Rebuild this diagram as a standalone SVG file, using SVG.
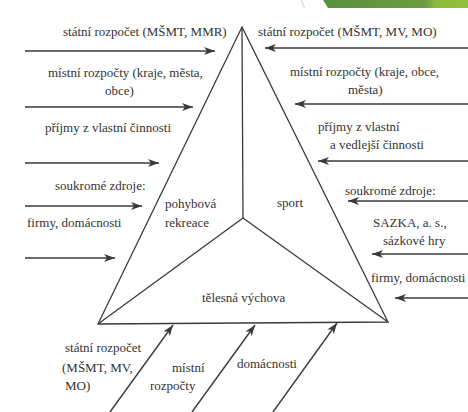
<svg xmlns="http://www.w3.org/2000/svg" width="468" height="412" viewBox="0 0 468 412">
<defs>
<marker id="ah" markerUnits="userSpaceOnUse" markerWidth="12" markerHeight="10" refX="11" refY="4" orient="auto">
<path d="M0,0 L11,4 L0,8 L3,4 z" fill="#3a3a3a"/>
</marker>
<linearGradient id="gr" x1="0" y1="0" x2="1" y2="0">
<stop offset="0" stop-color="#5b8f3e"/>
<stop offset="0.7" stop-color="#6c9c3f"/>
<stop offset="0.78" stop-color="#8dbb3c"/>
<stop offset="1" stop-color="#90bf3a"/>
</linearGradient>
</defs>
<rect width="468" height="412" fill="#ffffff"/>
<polygon points="323,0 468,0 468,8 328,8" fill="url(#gr)"/>
<line x1="301" y1="0" x2="304.5" y2="8" stroke="#bbbbbb" stroke-width="0.8"/>

<g id="triangle" stroke="#3a3a3a" stroke-width="1.3" fill="none">
<polygon points="242,27 98,324 388,322"/>
<line x1="242" y1="27" x2="243" y2="218"/>
<line x1="243" y1="218" x2="98" y2="324"/>
<line x1="243" y1="218" x2="388" y2="322"/>
</g>

<g id="node-pohybova-rekreace"><text font-family="Liberation Serif" font-size="13" fill="#333" x="165" y="208">pohybová</text><text font-family="Liberation Serif" font-size="13" fill="#333" x="165" y="227">rekreace</text></g>
<g id="node-sport"><text font-family="Liberation Serif" font-size="13" fill="#333" x="277" y="207">sport</text></g>
<g id="node-telesna-vychova"><text font-family="Liberation Serif" font-size="13" fill="#333" x="202" y="302">tělesná výchova</text></g>

<g id="src-left-1"><text font-family="Liberation Serif" font-size="13" fill="#333" x="63" y="36">státní rozpočet (MŠMT, MMR)</text></g>
<g id="src-left-2"><text font-family="Liberation Serif" font-size="13" fill="#333" x="48" y="77">místní rozpočty (kraje, města,</text><text font-family="Liberation Serif" font-size="13" fill="#333" x="105" y="95">obce)</text></g>
<g id="src-left-3"><text font-family="Liberation Serif" font-size="13" fill="#333" x="45" y="132">příjmy z vlastní činnosti</text></g>
<g id="src-left-4"><text font-family="Liberation Serif" font-size="13" fill="#333" x="55" y="190">soukromé zdroje:</text></g>
<g id="src-left-5"><text font-family="Liberation Serif" font-size="13" fill="#333" x="27" y="227">firmy, domácnosti</text></g>

<g id="src-right-1"><text font-family="Liberation Serif" font-size="13" fill="#333" x="258" y="36">státní rozpočet (MŠMT, MV, MO)</text></g>
<g id="src-right-2"><text font-family="Liberation Serif" font-size="13" fill="#333" x="290" y="76">místní rozpočty (kraje, obce,</text><text font-family="Liberation Serif" font-size="13" fill="#333" x="348" y="94">města)</text></g>
<g id="src-right-3"><text font-family="Liberation Serif" font-size="13" fill="#333" x="318" y="131">příjmy z vlastní</text><text font-family="Liberation Serif" font-size="13" fill="#333" x="330" y="149">a vedlejší činnosti</text></g>
<g id="src-right-4"><text font-family="Liberation Serif" font-size="13" fill="#333" x="345" y="195">soukromé zdroje:</text></g>
<g id="src-right-5"><text font-family="Liberation Serif" font-size="13" fill="#333" x="373" y="227">SAZKA, a. s.,</text><text font-family="Liberation Serif" font-size="13" fill="#333" x="383" y="245">sázkové hry</text></g>
<g id="src-right-6"><text font-family="Liberation Serif" font-size="13" fill="#333" x="371" y="282">firmy, domácnosti</text></g>

<g id="src-bottom-1"><text font-family="Liberation Serif" font-size="13" fill="#333" x="65" y="352">státní rozpočet</text><text font-family="Liberation Serif" font-size="13" fill="#333" x="62" y="372">(MŠMT, MV,</text><text font-family="Liberation Serif" font-size="13" fill="#333" x="65" y="390">MO)</text></g>
<g id="src-bottom-2"><text font-family="Liberation Serif" font-size="13" fill="#333" x="172" y="372">místní</text><text font-family="Liberation Serif" font-size="13" fill="#333" x="150" y="390">rozpočty</text></g>
<g id="src-bottom-3"><text font-family="Liberation Serif" font-size="13" fill="#333" x="237" y="368">domácnosti</text></g>

<g id="connectors" stroke="#3a3a3a" stroke-width="1.4" fill="none" marker-end="url(#ah)">
<line x1="25" y1="51" x2="215" y2="51"/>
<line x1="25" y1="107" x2="193" y2="107"/>
<line x1="25" y1="163" x2="159" y2="163"/>
<line x1="25" y1="206" x2="142" y2="206"/>
<line x1="25" y1="258" x2="115" y2="258"/>
<line x1="468" y1="48" x2="265" y2="48"/>
<line x1="468" y1="104" x2="295" y2="104"/>
<line x1="468" y1="161" x2="318" y2="161"/>
<line x1="468" y1="201" x2="348" y2="201"/>
<line x1="468" y1="254" x2="372" y2="254"/>
<line x1="468" y1="298" x2="395" y2="298"/>
<line x1="110" y1="412" x2="173" y2="325"/>
<line x1="192" y1="412" x2="255" y2="325"/>
<line x1="273" y1="412" x2="337" y2="323"/>
</g>
</svg>
